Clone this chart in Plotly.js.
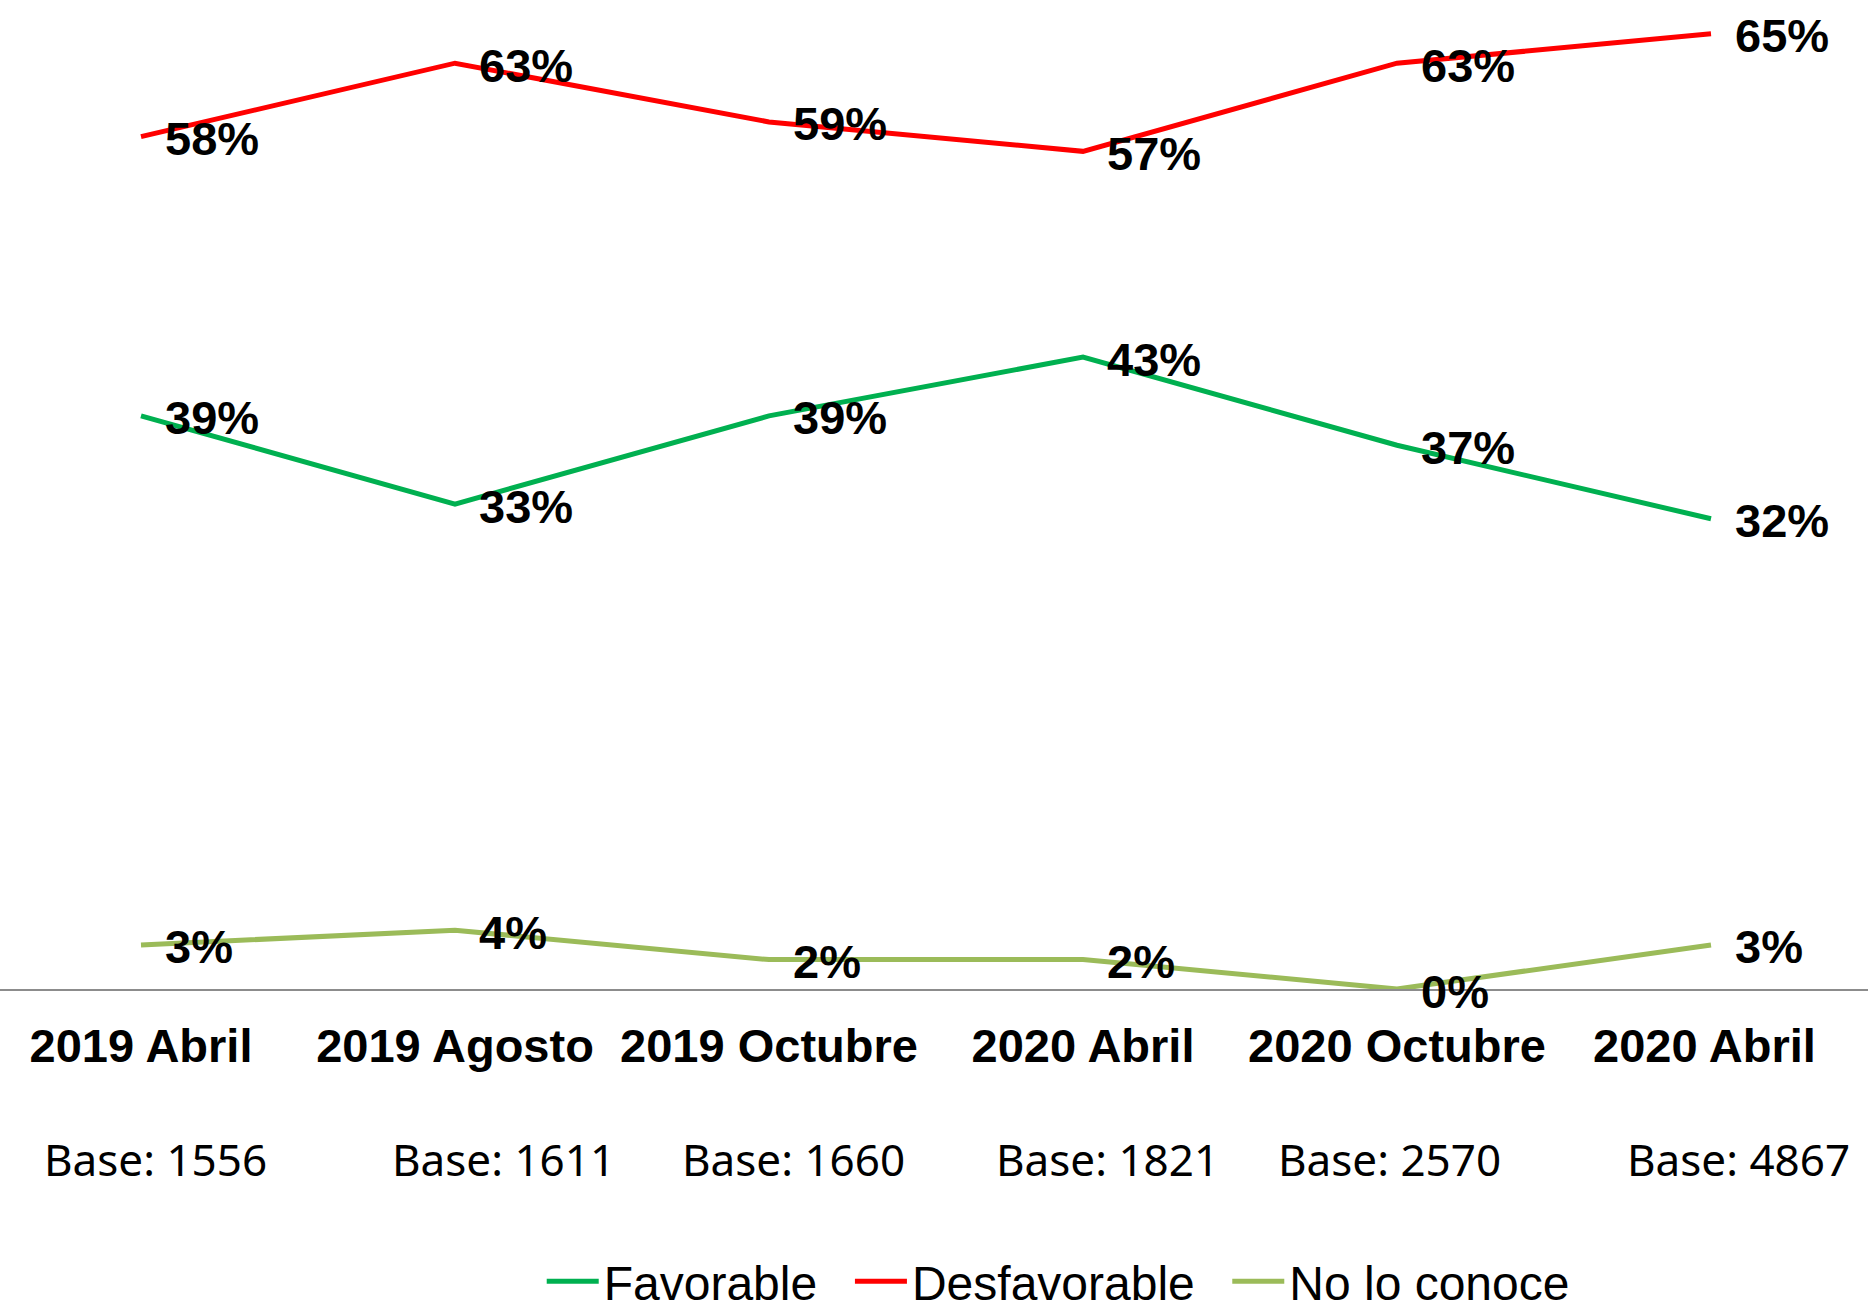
<!DOCTYPE html>
<html>
<head>
<meta charset="utf-8">
<script src="https://cdn.plot.ly/plotly-3.0.1.min.js"></script>
<style>html,body{margin:0;padding:0;background:#fff;}#chart{width:1871px;height:1313px;}</style>
</head>
<body>
<div id="chart"></div>
<script>
const categories = ["2019 Abril", "2019 Agosto", "2019 Octubre", "2020 Abril", "2020 Octubre", "2020 Abril "];
const bases = [1556, 1611, 1660, 1821, 2570, 4867];
const favorable = [0.39, 0.33, 0.39, 0.43, 0.37, 0.32];
const desfavorable = [0.58, 0.63, 0.59, 0.57, 0.63, 0.65];
const noLoConoce = [0.03, 0.04, 0.02, 0.02, 0.00, 0.03];
const seriesNames = ["Favorable", "Desfavorable", "No lo conoce"];
const seriesColors = ["#00B050", "#FF0000", "#9BBB59"];

// layout-only settings
const baseOffsets = [15, 49, 25, 25, -8, 27];
const legendIds = ["legend", "legend2", "legend3"];
const legendX = [0.290, 0.455, 0.657];

const xs = categories.map((c, i) => i);
const allSeries = [favorable, desfavorable, noLoConoce];

const traces = allSeries.map((vals, k) => ({
  x: xs, y: vals, type: "scatter", mode: "lines", name: seriesNames[k],
  line: {color: seriesColors[k], width: 5},
  legend: legendIds[k],
  hoverinfo: "skip"
}));

const annotations = [];
allSeries.forEach(vals => {
  vals.forEach((v, i) => {
    annotations.push({
      x: i, y: v, xref: "x", yref: "y", text: Math.round(v * 100) + "%",
      showarrow: false, xanchor: "left", yanchor: "middle", xshift: 22, yshift: -2,
      font: {family: "Liberation Sans, Arial, sans-serif", size: 47, color: "#000", weight: "bold"}
    });
  });
});
bases.forEach((b, i) => {
  annotations.push({
    x: i, y: 0, xref: "x", yref: "y", text: "Base: " + b,
    showarrow: false, xanchor: "center", yanchor: "middle", xshift: baseOffsets[i], yshift: -170,
    font: {family: "Noto Sans, sans-serif", size: 44, color: "#000"}
  });
});

const legendFont = {family: "Liberation Sans, Arial, sans-serif", size: 48, color: "#000"};
const layout = {
  width: 1871, height: 1313, autosize: false,
  margin: {l: 0, r: 3, t: 0, b: 324, pad: 0},
  paper_bgcolor: "#fff", plot_bgcolor: "#fff",
  showlegend: true,
  xaxis: {
    type: "linear", range: [-0.449, 5.5], tickmode: "array", tickvals: xs, ticktext: categories,
    showgrid: false, zeroline: false, showline: true, linecolor: "#8C8C8C", linewidth: 2,
    ticks: "", ticklabelstandoff: 15,
    tickfont: {family: "Liberation Sans, Arial, sans-serif", size: 47, color: "#000", weight: "bold"}
  },
  yaxis: {range: [0, 0.673], showgrid: false, zeroline: false, showline: false, showticklabels: false, ticks: ""},
  annotations: annotations
};
legendIds.forEach((id, k) => {
  layout[id] = {orientation: "h", x: legendX[k], xanchor: "left", xref: "paper",
    y: 0.024, yref: "container", yanchor: "middle", itemwidth: 52,
    font: legendFont, itemclick: false, bgcolor: "rgba(0,0,0,0)"};
});

Plotly.newPlot("chart", traces, layout, {displayModeBar: false, staticPlot: true});
</script>
</body>
</html>
